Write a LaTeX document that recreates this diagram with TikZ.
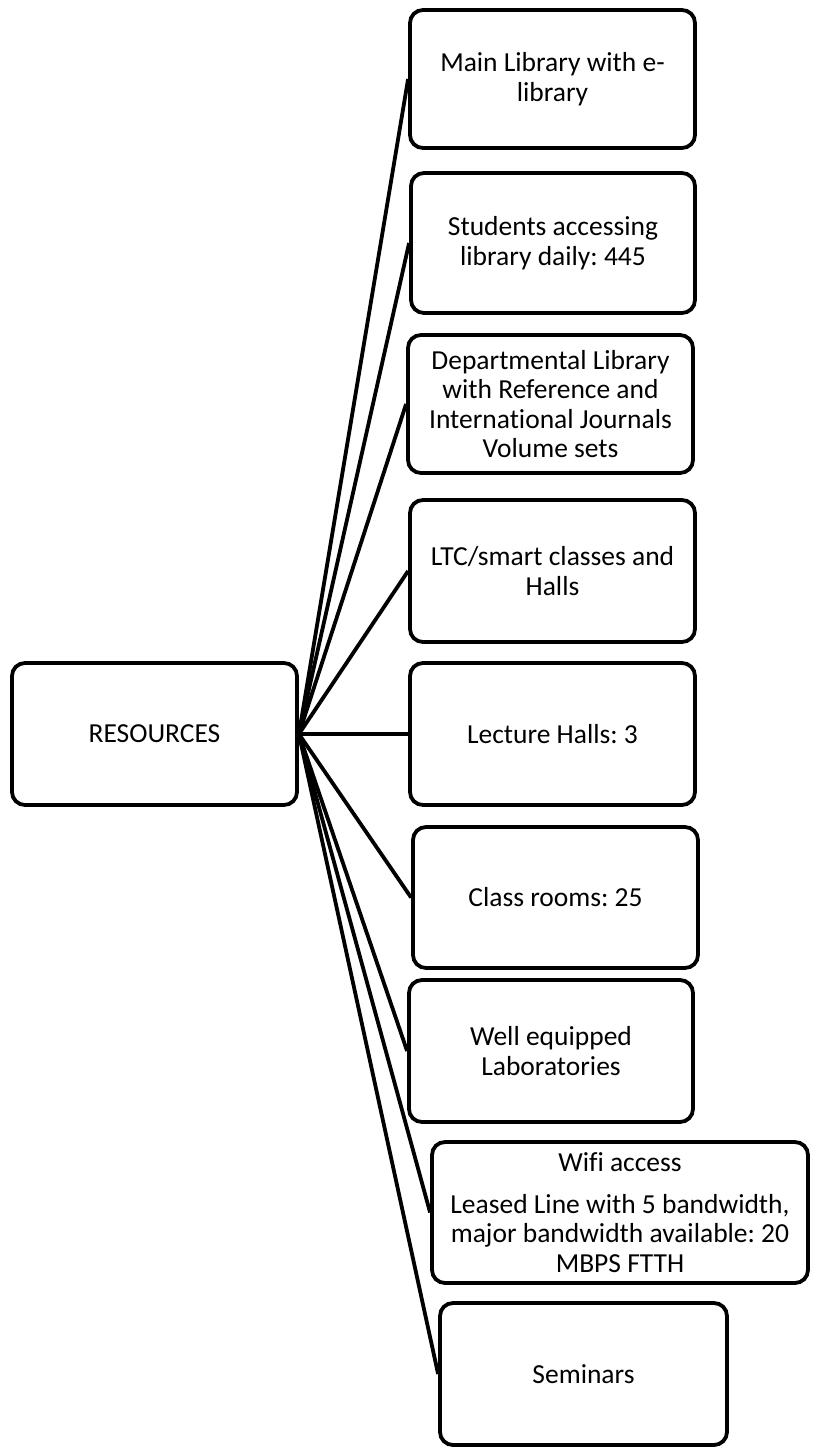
\documentclass[tikz,border=0pt]{standalone}
\usepackage{fontspec}
\setmainfont{Carlito}[Ligatures=NoCommon]
\frenchspacing
\begin{document}
\begin{tikzpicture}[x=1pt,y=-1pt,
  box/.style={draw=black, line width=3.8pt, rounded corners=13pt, fill=white,
    inner sep=0pt, align=center, font=\fontsize{27.5}{29.5}\selectfont},
  link/.style={draw=black, line width=3.8pt}]
\useasboundingbox (0,0) rectangle (816,1450);
\node[box, minimum width=285pt, minimum height=142pt] (root) at (154.5,734) {RESOURCES};
\node[box, minimum width=285pt, minimum height=138pt] (b1) at (552.5,79) {Main Library with e-\\library};
\node[box, minimum width=284pt, minimum height=140pt] (b2) at (553,243) {Students accessing\\library daily: 445};
\node[box, minimum width=285pt, minimum height=138pt] (b3) at (550.5,404) {Departmental Library\\with Reference and\\International Journals\\Volume sets};
\node[box, minimum width=285pt, minimum height=142pt] (b4) at (552.5,571) {LTC/smart classes and\\Halls};
\node[box, minimum width=285pt, minimum height=142pt] (b5) at (552.5,734) {Lecture Halls: 3};
\node[box, minimum width=285pt, minimum height=141pt] (b6) at (555.5,897.5) {Class rooms: 25};
\node[box, minimum width=284pt, minimum height=142pt] (b7) at (551,1051) {Well equipped\\Laboratories};
\node[box, minimum width=376pt, minimum height=141pt] (b8) at (620,1212.5) {Wifi access\\[12pt]Leased Line with 5 bandwidth,\\major bandwidth available: 20\\MBPS FTTH};
\node[box, minimum width=287pt, minimum height=142pt] (b9) at (583.5,1374) {Seminars};
\foreach \b in {b1,b2,b3,b4,b5,b6,b7,b8,b9}
  \draw[link] (root.east) -- (\b.west);
\end{tikzpicture}
\end{document}
